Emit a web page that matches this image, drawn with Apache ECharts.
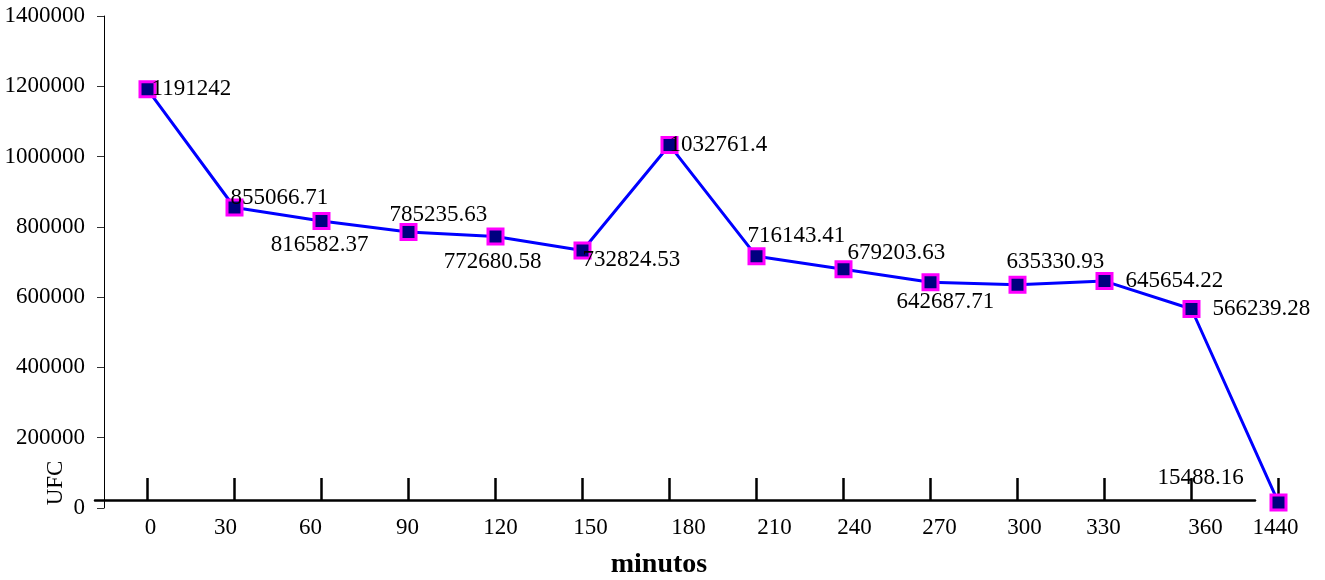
<!DOCTYPE html>
<html>
<head>
<meta charset="utf-8">
<title>UFC por minutos</title>
<script src="https://cdn.jsdelivr.net/npm/echarts@6/dist/echarts.min.js"></script>
<style>
  html, body { margin: 0; padding: 0; background: #ffffff; }
  #chart { width: 1325px; height: 580px; }
</style>
</head>
<body>
<div id="chart"></div>
<script>
// Sampling times (minutes) and the colony counts measured at each one
const minutes = ['0', '30', '60', '90', '120', '150', '180', '210', '240', '270', '300', '330', '360', '1440'];
const ufc = [1191242, 855066.71, 816582.37, 785235.63, 772680.58, 732824.53, 1032761.4,
             716143.41, 679203.63, 642687.71, 635330.93, 645654.22, 566239.28, 15488.16];

// Value axis range
const yMin = 0;
const yMax = 1400000;
const yStep = 200000;

// Where each value label sits around its marker: [align, dx, dy]
const valueLabelPlacement = [
  ['left', 4, 0],
  ['left', -4, -10],
  ['center', -2, 24],
  ['left', -19, -17],
  ['center', -3, 25],
  ['left', 0, 9],
  ['left', 0, 0],
  ['left', -9, -20],
  ['left', 4, -16],
  ['left', -34, 20],
  ['left', -11, -23],
  ['left', 21, 0],
  ['left', 21, 0],
  ['left', -121, -25]
];

// Small horizontal nudges of the category labels under the axis
const categoryLabelShift = [3, -9, -11, -1, 5, 8, 19, 18, 11, 9, 7, -1, 14, -3];

const FONT = '"Liberation Serif", "DejaVu Serif", serif';
const FONT_SIZE = 23;

const categoryRich = {};
categoryLabelShift.forEach((s, i) => {
  categoryRich['c' + i] = {
    fontFamily: FONT,
    fontSize: FONT_SIZE,
    color: '#000',
    padding: [0, s < 0 ? -2 * s : 0, 0, s > 0 ? 2 * s : 0]
  };
});

const seriesData = ufc.map((v, i) => {
  const [align, dx, dy] = valueLabelPlacement[i];
  return {
    value: v,
    label: { align: align, offset: [dx, dy] }
  };
});

const chart = echarts.init(document.getElementById('chart'));

chart.setOption({
  animation: false,
  backgroundColor: '#ffffff',
  grid: [
    // plotting area
    { left: 104, right: 3, top: 16, bottom: 72, containLabel: false },
    // carries the horizontal base line under the categories
    { left: 95, right: 70, top: 16, bottom: 80, containLabel: false }
  ],
  xAxis: [
    {
      type: 'category',
      gridIndex: 0,
      data: minutes,
      boundaryGap: true,
      offset: -8,
      axisLine: { show: false },
      axisTick: { show: true, inside: true, length: 22, alignWithLabel: true,
                  lineStyle: { color: '#000', width: 2.5 } },
      axisLabel: {
        margin: 16,
        interval: 0,
        formatter: (v, i) => '{c' + i + '|' + v + '}',
        rich: categoryRich
      },
      splitLine: { show: false }
    },
    {
      type: 'value',
      gridIndex: 1,
      min: 0,
      max: 1,
      axisLine: { show: true, onZero: false, lineStyle: { color: '#000', width: 2.5 } },
      axisTick: { show: false },
      axisLabel: { show: false },
      splitLine: { show: false }
    }
  ],
  yAxis: [
    {
      type: 'value',
      gridIndex: 0,
      min: yMin,
      max: yMax,
      interval: yStep,
      axisLine: { show: true, lineStyle: { color: '#000', width: 1 } },
      axisTick: { show: true, inside: false, length: 7, lineStyle: { color: '#333', width: 1 } },
      axisLabel: {
        margin: 19, fontFamily: FONT, fontSize: FONT_SIZE, color: '#000',
        formatter: (v) => String(v)
      },
      splitLine: { show: false }
    },
    {
      type: 'value',
      gridIndex: 1,
      min: 0,
      max: 1,
      show: false
    }
  ],
  graphic: [
    {
      type: 'text',
      x: 56,
      y: 483,
      rotation: Math.PI / 2,
      style: {
        text: 'UFC',
        font: FONT_SIZE + 'px ' + FONT,
        fill: '#000',
        textAlign: 'center',
        textVerticalAlign: 'middle'
      }
    },
    {
      type: 'text',
      x: 659,
      y: 565,
      style: {
        text: 'minutos',
        font: 'bold 28px ' + FONT,
        fill: '#000',
        textAlign: 'center',
        textVerticalAlign: 'middle'
      }
    }
  ],
  series: [
    {
      type: 'line',
      xAxisIndex: 0,
      yAxisIndex: 0,
      data: seriesData,
      symbol: 'rect',
      symbolSize: 15,
      lineStyle: { color: '#0000ff', width: 3 },
      itemStyle: { color: '#000080', borderColor: '#ff00ff', borderWidth: 3 },
      label: {
        show: true,
        position: 'inside',
        verticalAlign: 'middle',
        fontFamily: FONT,
        fontSize: FONT_SIZE,
        color: '#000',
        formatter: (p) => String(p.value)
      },
      z: 3
    }
  ]
});
</script>
</body>
</html>
